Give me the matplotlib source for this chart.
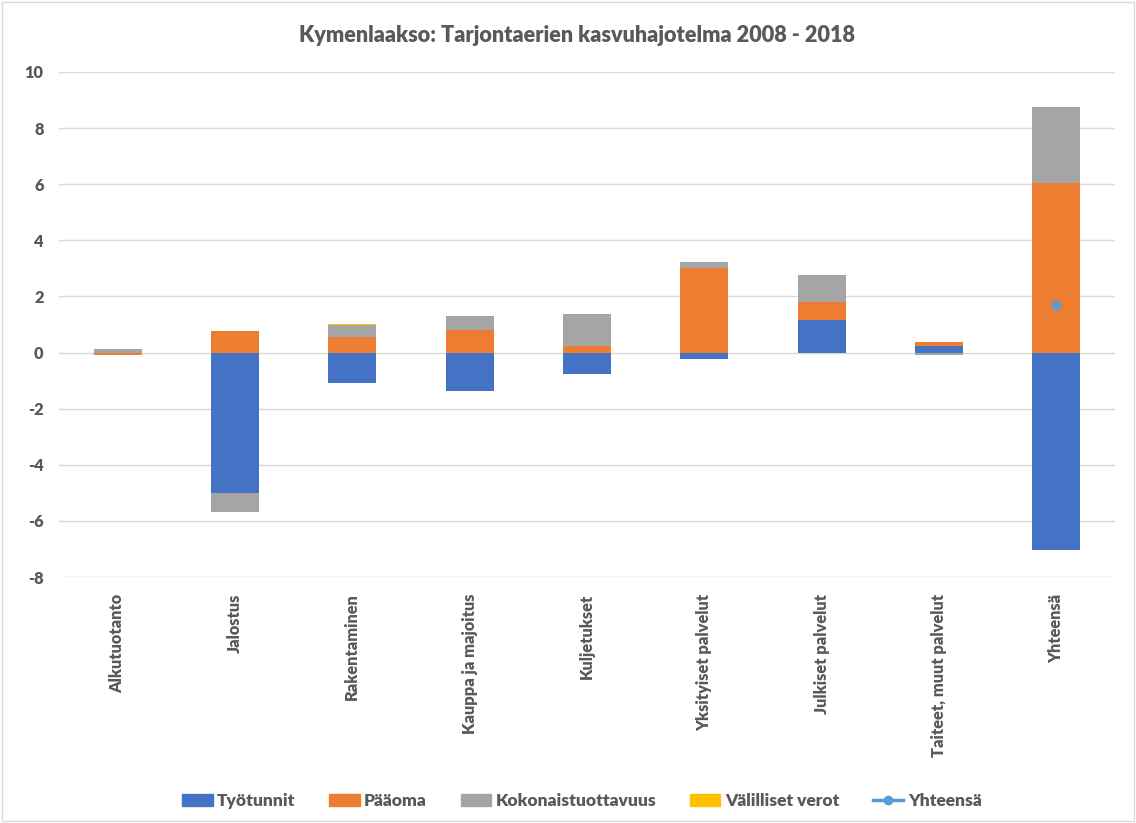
import matplotlib.pyplot as plt
import matplotlib.patches as mpatches
import numpy as np

plt.rcParams['font.family'] = ['Lato', 'DejaVu Sans']
plt.rcParams['axes.unicode_minus'] = False

categories = ['Alkutuotanto', 'Jalostus', 'Rakentaminen', 'Kauppa ja majoitus',
              'Kuljetukset', 'Yksityiset palvelut', 'Julkiset palvelut',
              'Taiteet, muut palvelut', 'Yhteensä']
tyotunnit = [-0.02, -5.00, -1.07, -1.37, -0.76, -0.24, 1.17, 0.24, -7.04]
paaoma = [-0.05, 0.76, 0.56, 0.80, 0.22, 3.00, 0.63, 0.14, 6.05]
kokonais = [0.11, -0.68, 0.43, 0.50, 1.15, 0.22, 0.96, -0.07, 2.71]
valilliset = [0.03, 0.00, 0.02, 0.00, 0.00, 0.00, 0.00, 0.00, 0.00]
yhteensa = [np.nan] * 8 + [1.70]

series = [('Työtunnit', tyotunnit, '#4472C4'),
          ('Pääoma', paaoma, '#ED7D31'),
          ('Kokonaistuottavuus', kokonais, '#A5A5A5'),
          ('Välilliset verot', valilliset, '#FFC000')]

txt = '#595959'
W = 800
fig = plt.figure(figsize=(11.36, 8.23), dpi=100)
ax = fig.add_axes([59 / 1136, 1 - 577 / 823, (1115 - 59) / 1136, (577 - 72) / 823])

x = np.arange(len(categories))
pos_bottom = np.zeros(len(categories))
neg_bottom = np.zeros(len(categories))
handles = []
for name, vals, col in series:
    v = np.array(vals)
    bottom = np.where(v >= 0, pos_bottom, neg_bottom)
    ax.bar(x, v, 0.41, bottom=bottom, color=col, zorder=3)
    pos_bottom += np.where(v >= 0, v, 0)
    neg_bottom += np.where(v < 0, v, 0)
    handles.append(mpatches.Patch(color=col, label=name))

line, = ax.plot(x, yhteensa, color='#5B9BD5', marker='o', markersize=6,
                linewidth=2.5, zorder=4, label='Yhteensä')
handles.append(line)

ax.set_ylim(-8, 10)
ax.set_xlim(-0.5, len(categories) - 0.5)
ax.set_yticks(np.arange(-8, 11, 2))
ax.grid(axis='y', color='#D9D9D9', linewidth=1, zorder=0)
for s in ax.spines.values():
    s.set_visible(False)
ax.tick_params(length=0)
ax.set_xticks(x)
ax.set_xticklabels(categories, rotation=90, fontsize=11.8, fontweight=W, color=txt)
ax.tick_params(axis='x', pad=12)
ax.tick_params(axis='y', pad=11, labelsize=11.8, labelcolor=txt)
for lab in ax.get_yticklabels():
    lab.set_fontweight(W)

fig.text(577 / 1136, 1 - 35 / 823, 'Kymenlaakso: Tarjontaerien kasvuhajotelma 2008 - 2018',
         ha='center', va='center', fontsize=15.6, fontweight=W, color=txt)

leg = fig.legend(handles=handles, loc='center', bbox_to_anchor=(582 / 1136, 1 - 801 / 823),
                 ncol=5, frameon=False, handlelength=1.75, handleheight=0.75,
                 handletextpad=0.25, columnspacing=1.95,
                 prop={'size': 12.5, 'weight': W})
for t in leg.get_texts():
    t.set_color(txt)

fig.patches.append(mpatches.Rectangle((0.002, 0.002), 0.996, 0.996, transform=fig.transFigure,
                                      fill=False, edgecolor='#D9D9D9', linewidth=1))

fig.savefig('out.png', dpi=100)
